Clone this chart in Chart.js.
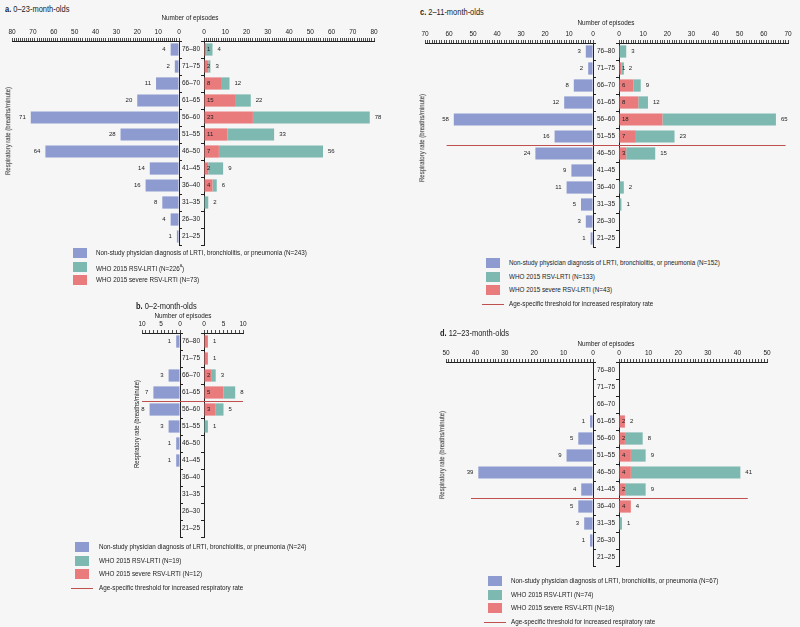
<!DOCTYPE html>
<html>
<head>
<meta charset="utf-8">
<script src="https://cdn.jsdelivr.net/npm/chart.js@4.4.1/dist/chart.umd.min.js"></script>
<style>
  body { margin: 0; background: #f6f6f6; }
  #page { position: relative; width: 800px; height: 627px; overflow: hidden;
          font-family: "Liberation Sans", Arial, sans-serif; color: #222; }
  #page canvas { position: absolute; }
  .t { position: absolute; white-space: nowrap; line-height: 1; }
  .title { font-size: 9px; transform: scaleX(0.83); transform-origin: left center; }
  .axt { font-size: 7.5px; transform: translateX(-50%) scaleX(0.85); }
  .yt { font-size: 7.5px; transform: translate(-50%, -50%) rotate(-90deg) scaleX(0.8); }
  .leg { font-size: 7.5px; transform: scaleX(0.84); transform-origin: left center; }
  .leg sup { font-size: 5px; }
  .sw { position: absolute; width: 14px; height: 10px; }
  .ln { position: absolute; height: 1px; background: #c0504d; }
</style>
</head>
<body>
<div id="page"></div>
<script>
// respiratory rate bands, top to bottom
const rateBands = ['76–80', '71–75', '66–70', '61–65', '56–60', '51–55', '46–50', '41–45', '36–40', '31–35', '26–30', '21–25'];

// a. 0-23 month olds
const aPhysician = [4, 2, 11, 20, 71, 28, 64, 14, 16, 8, 4, 1];
const aWhoTotal = [4, 3, 12, 22, 78, 33, 56, 9, 6, 2, 0, 0];
const aWhoSevere = [1, 2, 8, 15, 23, 11, 7, 2, 4, 0, 0, 0];

// b. 0-2 month olds
const bPhysician = [1, 0, 3, 7, 8, 3, 1, 1, 0, 0, 0, 0];
const bWhoTotal = [1, 1, 3, 8, 5, 1, 0, 0, 0, 0, 0, 0];
const bWhoSevere = [1, 1, 2, 5, 3, 0, 0, 0, 0, 0, 0, 0];
const bThreshold = [3, 10, 10]; // row above the line, left extent, right extent

// c. 2-11 month olds
const cPhysician = [3, 2, 8, 12, 58, 16, 24, 9, 11, 5, 3, 1];
const cWhoTotal = [3, 2, 9, 12, 65, 23, 15, 0, 2, 1, 0, 0];
const cWhoSevere = [0, 1, 6, 8, 18, 7, 3, 0, 0, 0, 0, 0];
const cThreshold = [5, 61, 69];

// d. 12-23 month olds
const dPhysician = [0, 0, 0, 1, 5, 9, 39, 4, 5, 3, 1, 0];
const dWhoTotal = [0, 0, 0, 2, 8, 9, 41, 9, 4, 1, 0, 0];
const dWhoSevere = [0, 0, 0, 2, 2, 4, 4, 2, 4, 0, 0, 0];
const dThreshold = [7, 41.5, 43.5];

const blue = '#8e9bd0', teal = '#7db9b1', red = '#ea7b7d', lineRed = '#c0504d';
const ink = '#222';
const fontFamily = '"Liberation Sans", Arial, sans-serif';
const page = document.getElementById('page');

const panels = [
  { letter: 'a', name: '0–23-month-olds', physician: aPhysician, total: aWhoTotal, severe: aWhoSevere,
    max: 80, major: 10, threshold: null,
    legend: ['(N=243)', '(N=226<sup>a</sup>)', '(N=73)'],
    box: { x0L: 12, xL: 179, xR: 204, x1R: 374, yTop: 41, yBot: 245 },
    title: [5, 9], axTitle: [190, 18], yTitle: [8, 131], leg: [73, 96, 253] },
  { letter: 'b', name: '0–2-month-olds', physician: bPhysician, total: bWhoTotal, severe: bWhoSevere,
    max: 10, major: 5, threshold: bThreshold,
    legend: ['(N=24)', '(N=19)', '(N=12)'],
    box: { x0L: 142, xL: 180, xR: 204, x1R: 243, yTop: 333, yBot: 537 },
    title: [136, 306], axTitle: [183, 316], yTitle: [137, 424], leg: [75, 99, 547] },
  { letter: 'c', name: '2–11-month-olds', physician: cPhysician, total: cWhoTotal, severe: cWhoSevere,
    max: 70, major: 10, threshold: cThreshold,
    legend: ['(N=152)', '(N=133)', '(N=43)'],
    box: { x0L: 425, xL: 593, xR: 619, x1R: 788, yTop: 43, yBot: 247 },
    title: [420, 12], axTitle: [606, 23], yTitle: [422, 138], leg: [486, 509, 263] },
  { letter: 'd', name: '12–23-month-olds', physician: dPhysician, total: dWhoTotal, severe: dWhoSevere,
    max: 50, major: 10, threshold: dThreshold,
    legend: ['(N=67)', '(N=74)', '(N=18)'],
    box: { x0L: 446, xL: 593, xR: 619, x1R: 767, yTop: 362, yBot: 566 },
    title: [440, 333], axTitle: [606, 344], yTitle: [442, 455], leg: [488, 511, 581] }
];

// numbers next to the bars
const valueLabels = {
  id: 'valueLabels',
  afterDatasetsDraw(chart, args, o) {
    const ctx = chart.ctx, xs = chart.scales.x, ys = chart.scales.y;
    ctx.save();
    ctx.font = '6px ' + fontFamily;
    ctx.fillStyle = ink;
    ctx.textBaseline = 'middle';
    if (o.side === 'left') {
      ctx.textAlign = 'right';
      o.values.forEach((v, i) => {
        if (v > 0) ctx.fillText(v, xs.getPixelForValue(v) - 5, ys.getPixelForValue(i));
      });
    } else {
      ctx.textAlign = 'left';
      o.total.forEach((t, i) => {
        const y = ys.getPixelForValue(i), s = o.severe[i];
        if (t > 0) ctx.fillText(t, xs.getPixelForValue(t) + 5, y);
        if (s > 1 || (s > 0 && s < t)) ctx.fillText(s, chart.chartArea.left + 3, y);
      });
    }
    ctx.restore();
  }
};

// age-specific threshold line
const thresholdLine = {
  id: 'thresholdLine',
  afterDatasetsDraw(chart, args, o) {
    if (!o.row) return;
    const xs = chart.scales.x, ys = chart.scales.y;
    const y = Math.round((ys.getPixelForValue(o.row[0]) + ys.getPixelForValue(o.row[0] + 1)) / 2) + 0.5;
    let x1, x2;
    if (o.side === 'left') { x1 = xs.getPixelForValue(o.row[1]); x2 = chart.chartArea.right; }
    else { x1 = 0; x2 = xs.getPixelForValue(o.row[2]); }
    const ctx = chart.ctx;
    ctx.save();
    ctx.strokeStyle = lineRed;
    ctx.lineWidth = 1;
    ctx.beginPath();
    ctx.moveTo(x1, y);
    ctx.lineTo(x2, y);
    ctx.stroke();
    ctx.restore();
  }
};

function addCanvas(x, y, w, h) {
  const c = document.createElement('canvas');
  c.width = w; c.height = h;
  c.style.left = x + 'px'; c.style.top = y + 'px';
  c.style.width = w + 'px'; c.style.height = h + 'px';
  page.appendChild(c);
  return c;
}

function addText(cls, x, y, html) {
  const d = document.createElement('div');
  d.className = 't ' + cls;
  d.style.left = x + 'px';
  d.style.top = y + 'px';
  d.innerHTML = html;
  page.appendChild(d);
  return d;
}

const axisH = 14, padX = 8, padB = 8;

function xAxis(max, major, reverse) {
  return {
    type: 'linear', position: 'top', min: 0, max: max, reverse: reverse,
    afterFit: s => { s.height = axisH; },
    ticks: {
      stepSize: 1, autoSkip: false, maxRotation: 0, minRotation: 0, padding: 2,
      color: ink, font: { family: fontFamily, size: 6.5 },
      callback: v => (v % major === 0 ? v : '')
    },
    grid: { drawOnChartArea: false, drawTicks: true, tickLength: 3, tickColor: ink, tickWidth: 0.8 },
    border: { display: true, color: ink, width: 1 }
  };
}

function makePanel(p) {
  const g = p.box;
  const h = g.yBot - g.yTop + axisH + padB;

  // left half: physician diagnosis
  const lc = addCanvas(g.x0L - padX, g.yTop - axisH, g.xL - g.x0L + padX + 4, h);
  new Chart(lc, {
    type: 'bar',
    data: {
      labels: rateBands,
      datasets: [{ data: p.physician, backgroundColor: blue, barPercentage: 0.72, categoryPercentage: 1 }]
    },
    options: {
      indexAxis: 'y', responsive: false, animation: false, devicePixelRatio: 1,
      layout: { padding: { left: padX, right: 0, top: 0, bottom: padB } },
      scales: {
        x: xAxis(p.max, p.major, true),
        y: {
          type: 'category', position: 'right',
          afterFit: s => { s.width = 4; },
          ticks: { display: false },
          grid: { offset: true, drawOnChartArea: false, drawTicks: true, tickLength: 3, tickColor: ink },
          border: { display: true, color: ink, width: 1 }
        }
      },
      plugins: {
        legend: { display: false }, tooltip: { enabled: false },
        valueLabels: { side: 'left', values: p.physician },
        thresholdLine: { side: 'left', row: p.threshold }
      }
    },
    plugins: [valueLabels, thresholdLine]
  });

  // right half: WHO case definitions, severe stacked inside total
  const rc = addCanvas(g.xL, g.yTop - axisH, g.x1R - g.xL + padX, h);
  new Chart(rc, {
    type: 'bar',
    data: {
      labels: rateBands,
      datasets: [
        { data: p.severe, backgroundColor: red, barPercentage: 0.72, categoryPercentage: 1 },
        { data: p.total.map((t, i) => t - p.severe[i]), backgroundColor: teal, barPercentage: 0.72, categoryPercentage: 1 }
      ]
    },
    options: {
      indexAxis: 'y', responsive: false, animation: false, devicePixelRatio: 1,
      layout: { padding: { left: 0, right: padX, top: 0, bottom: padB } },
      scales: {
        x: Object.assign(xAxis(p.max, p.major, false), { stacked: true }),
        y: {
          type: 'category', position: 'left', stacked: true,
          afterFit: s => { s.width = g.xR - g.xL; },
          ticks: { crossAlign: 'center', padding: 1, color: ink, font: { family: fontFamily, size: 6.5 } },
          grid: { offset: true, drawOnChartArea: false, drawTicks: true, tickLength: 3, tickColor: ink },
          border: { display: true, color: ink, width: 1 }
        }
      },
      plugins: {
        legend: { display: false }, tooltip: { enabled: false },
        valueLabels: { side: 'right', total: p.total, severe: p.severe },
        thresholdLine: { side: 'right', row: p.threshold }
      }
    },
    plugins: [valueLabels, thresholdLine]
  });

  // texts
  addText('title', p.title[0], p.title[1] - 4.5, '<b>' + p.letter + '.</b> ' + p.name);
  addText('axt', p.axTitle[0], p.axTitle[1] - 3.75, 'Number of episodes');
  addText('yt', p.yTitle[0], p.yTitle[1], 'Respiratory rate (breaths/minute)');

  // legend
  const legTexts = [
    'Non-study physician diagnosis of LRTI, bronchiolitis, or pneumonia ' + p.legend[0],
    'WHO 2015 RSV-LRTI ' + p.legend[1],
    'WHO 2015 severe RSV-LRTI ' + p.legend[2]
  ];
  const legColors = [blue, teal, red];
  const [sx, tx, ly] = p.leg;
  legTexts.forEach((txt, i) => {
    const cy = ly + i * 13.5;
    const sw = document.createElement('div');
    sw.className = 'sw';
    sw.style.left = sx + 'px'; sw.style.top = (cy - 5) + 'px';
    sw.style.background = legColors[i];
    page.appendChild(sw);
    addText('leg', tx, cy - 3.75, txt);
  });
  if (p.threshold) {
    const cy = ly + 3 * 13.5;
    const ln = document.createElement('div');
    ln.className = 'ln';
    ln.style.left = (sx - 4) + 'px'; ln.style.top = Math.round(cy) + 'px';
    ln.style.width = '22px';
    page.appendChild(ln);
    addText('leg', tx, cy - 3.75, 'Age-specific threshold for increased respiratory rate');
  }
}

panels.forEach(makePanel);
</script>
</body>
</html>
